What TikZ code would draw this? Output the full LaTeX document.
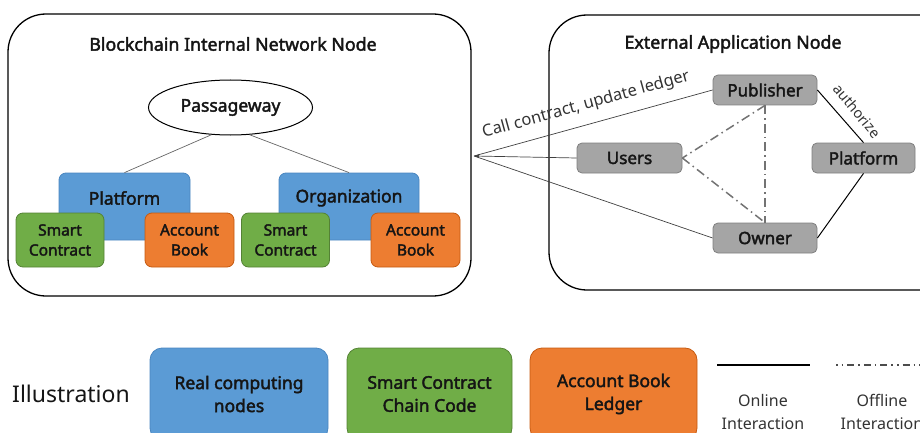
\documentclass[tikz,border=0pt]{standalone}
\usepackage{fontspec}
\setmainfont{Noto Sans}
\newfontfamily\mfont[FakeBold=2.2]{Noto Sans}
\usetikzlibrary{arrows.meta,shapes.geometric}
\definecolor{cblue}{HTML}{5B9BD5}
\definecolor{cblueb}{HTML}{4A86C0}
\definecolor{cgreen}{HTML}{70AD47}
\definecolor{cgreenb}{HTML}{548235}
\definecolor{corange}{HTML}{ED7D31}
\definecolor{coranb}{HTML}{C55A11}
\definecolor{cgray}{HTML}{A5A5A5}
\definecolor{cgrayb}{HTML}{7F7F7F}
\definecolor{ctxt}{HTML}{151515}
\tikzset{
  bigbox/.style={draw=black, line width=1.3pt, rounded corners=38pt},
  bluebox/.style={draw=cblueb, fill=cblue, line width=0.8pt, rounded corners=7pt, inner sep=0pt},
  bluetxt/.style={font=\mfont\fontsize{17.5}{19}\selectfont, text=ctxt},
  greenbox/.style={draw=cgreenb, fill=cgreen, line width=0.8pt, rounded corners=7pt, align=center, inner sep=0pt, minimum width=88pt, minimum height=54pt, font=\mfont\fontsize{15.5}{20}\selectfont, text=ctxt},
  orangebox/.style={draw=coranb, fill=corange, line width=0.8pt, rounded corners=7pt, align=center, inner sep=0pt, minimum width=89pt, minimum height=54pt, font=\mfont\fontsize{15.5}{20}\selectfont, text=ctxt},
  graybox/.style={draw=cgrayb, fill=cgray, line width=0.8pt, rounded corners=5pt, inner sep=0pt, minimum height=30pt, font=\mfont\fontsize{17}{19}\selectfont, text=ctxt},
  title/.style={font=\mfont\fontsize{17.8}{19}\selectfont, text=ctxt},
  thinline/.style={draw=black!60, line width=0.7pt},
  offline/.style={draw=black!55, line width=1.5pt, dash pattern=on 9pt off 4pt on 1.5pt off 4pt},
  legbox/.style={rounded corners=12pt, line width=0.8pt, align=center, inner sep=0pt, minimum height=92pt, font=\mfont\fontsize{17.5}{23}\selectfont, text=ctxt},
  legtxt/.style={align=center, font=\fontsize{16}{23}\selectfont, text=black!80},
}
\begin{document}
\begin{tikzpicture}[x=1pt,y=-1pt]
\useasboundingbox (0,0) rectangle (920,433);
\clip (0,0) rectangle (920,433);
% big containers
\draw[bigbox] (8,14) rectangle (471,296);
\draw[bigbox] (549,15) rectangle (960,290);
\node[title] (t1) at (233,44) {Blockchain Internal Network Node};
\node[title] (t2) at (733,44) {External Application Node};
% internal network
\node[draw=black, line width=1pt, ellipse, minimum width=164pt, minimum height=55pt, inner sep=0pt, font=\mfont\fontsize{17.5}{19}\selectfont, text=ctxt] (pass) at (230.5,107.5) {Passageway};
\node[bluebox, minimum width=131pt, minimum height=67pt] (plat) at (124.5,206.5) {};
\node[bluetxt] (platt) at (124.5,198) {Platform};
\node[bluebox, minimum width=140pt, minimum height=67pt] (org) at (349,206.5) {};
\node[bluetxt] (orgt) at (349,198) {Organization};
\node[greenbox] (sc1) at (60,240) {Smart\\Contract};
\node[orangebox] (ab1) at (189.5,240) {Account\\Book};
\node[greenbox] (sc2) at (285.5,240) {Smart\\Contract};
\node[orangebox] (ab2) at (415.5,240) {Account\\Book};
\draw[thinline] (pass.-125) -- (plat.north);
\draw[thinline] (pass.-55) -- (org.north);
% external application
\node[graybox, minimum width=104pt] (pub) at (765,90) {Publisher};
\node[graybox, minimum width=105pt] (usr) at (629.5,158) {Users};
\node[graybox, minimum width=103pt] (pf2) at (863.5,158) {Platform};
\node[graybox, minimum width=104pt] (own) at (765,238) {Owner};
\coordinate (tip) at (474,156);
\draw[thinline, draw=black!75] (pub.west) -- (tip);
\draw[thinline, draw=black!75, -{Latex[length=5pt,width=4pt]}] (usr.west) -- (tip);
\draw[thinline, draw=black!75] (own.west) -- (tip);
\draw[black, line width=1pt] (pub.east) -- (pf2.north);
\draw[black, line width=1pt] (own.east) -- (pf2.south);
\draw[offline] (pub.south) -- (usr.east);
\draw[offline] (usr.east) -- (own.north);
\draw[offline] (pub.south) -- (own.north);
\node[font=\fontsize{16.5}{18}\selectfont, rotate=15.5, text=black!80] (call) at (586,105) {Call contract, update ledger};
\node[font=\fontsize{14.5}{16}\selectfont, rotate=-50, text=black!80] (auth) at (857,111) {authorize};
% legend
\node[font=\fontsize{23}{25}\selectfont, text=ctxt] (ill) at (71,394) {Illustration};
\node[legbox, draw=cblueb, fill=cblue, minimum width=178pt] (lb) at (239,394) {Real computing\\nodes};
\node[legbox, draw=cgreenb, fill=cgreen, minimum width=165pt] (lg) at (429.5,394) {Smart Contract\\Chain Code};
\node[legbox, draw=coranb, fill=corange, minimum width=167pt] (lo) at (613.5,394) {Account Book\\Ledger};
\coordinate (on1) at (717,365);
\coordinate (on2) at (810,365);
\coordinate (of1) at (836,365);
\coordinate (of2) at (925,365);
\draw[black, line width=2.4pt] (on1) -- (on2);
\draw[draw=black!70, line width=1.6pt, dash pattern=on 1.6pt off 4pt on 1.6pt off 4pt on 7pt off 4pt on 1.6pt off 4pt on 7pt off 4pt on 1.6pt off 4pt on 7pt off 4pt] (of1) -- (of2);
\node[legtxt] (ont) at (763,411.5) {Online\\Interaction};
\node[legtxt] (oft) at (882,411.5) {Offline\\Interaction};
\end{tikzpicture}
\end{document}
